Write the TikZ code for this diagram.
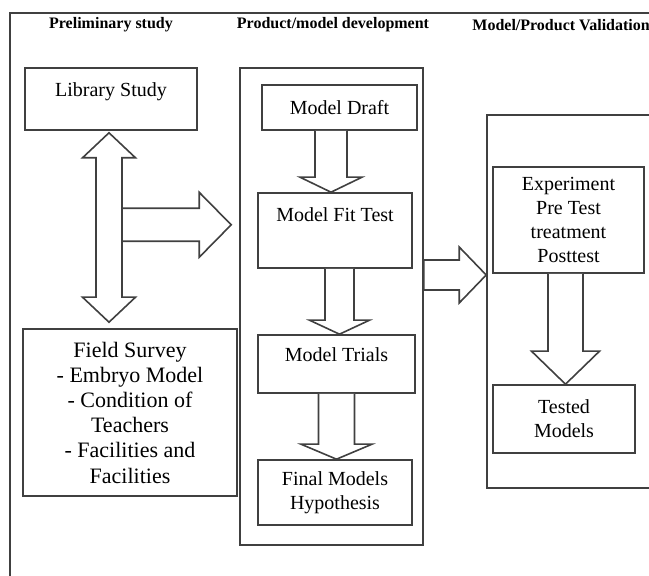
\documentclass[tikz,border=0pt]{standalone}
\usepackage{fontspec}
\setmainfont{Liberation Serif}
\usetikzlibrary{calc}

% hollow block arrows: start, tip, half shaft, half head, head length
\newcommand{\downblk}[5]{%
  \draw[blk] let \p1=(#1), \p2=(#2) in
    (\x1-#3,\y1) -- (\x1-#3,\y2+#5) -- (\x1-#4,\y2+#5) -- (\x2,\y2)
    -- (\x1+#4,\y2+#5) -- (\x1+#3,\y2+#5) -- (\x1+#3,\y1);}
\newcommand{\rightblk}[5]{%
  \draw[blk] let \p1=(#1), \p2=(#2) in
    (\x1,\y1+#3) -- (\x2-#5,\y1+#3) -- (\x2-#5,\y1+#4) -- (\x2,\y2)
    -- (\x2-#5,\y1-#4) -- (\x2-#5,\y1-#3) -- (\x1,\y1-#3) -- cycle;}

\begin{document}
\begin{tikzpicture}[x=0.5pt,y=-0.5pt,
  box/.style={draw=black!75,line width=0.8pt,inner sep=0pt,align=center,
    font=\fontsize{10}{12}\selectfont},
  topbox/.style 2 args={box,text height=#1,text depth=#2},
  blk/.style={draw=black!75,line width=0.8pt,fill=white,line join=miter},
  hdr/.style={inner sep=0pt,font=\fontsize{8}{9}\selectfont\bfseries}]
  \useasboundingbox (0,0) rectangle (649,576);
  \clip (0,0) rectangle (649,576);
  \draw[black!75,line width=1pt] (10,600) -- (10,13) -- (670,13);
  % column titles
  \node[hdr] (h1) at (111,25) {Preliminary study};
  \node[hdr] (h2) at (333,25) {Product/model development};
  \node[hdr,anchor=west] (h3) at (472,25) {Model/Product Validation};
  % preliminary study
  \node[topbox={14.25pt}{16.75pt},minimum width=86pt] (lib) at (111,99) {Library Study};
  \node[box,minimum width=107pt,minimum height=83.5pt,font=\fontsize{11}{12.6}\selectfont]
    (field) at (130,412.5) {Field Survey\\- Embryo Model\\- Condition of\\Teachers\\- Facilities and\\Facilities};
  % development
  \node[box,minimum width=91.5pt,minimum height=238.5pt] (dev) at (331.5,306.5) {};
  \node[box,minimum width=77.5pt,minimum height=22.5pt] (draft) at (339.5,107.5) {Model Draft};
  \node[topbox={14.25pt}{23.25pt},minimum width=77pt] (fit) at (335,230.5) {Model Fit Test};
  \node[topbox={13.25pt}{15.75pt},minimum width=78.5pt] (trials) at (336.5,364) {Model Trials};
  \node[box,minimum width=77pt,minimum height=32.5pt] (final) at (335,492.5) {Final Models\\Hypothesis};
  % validation
  \node[box,minimum width=89pt,minimum height=186.5pt] (val) at (576,301.5) {};
  \node[box,minimum width=75.5pt,minimum height=53pt] (exper) at (568.5,220) {Experiment\\Pre Test\\treatment\\Posttest};
  \node[box,minimum width=71pt,minimum height=34pt] (tested) at (564,419) {Tested\\Models};
  % arrows
  \coordinate (dtop) at ($(lib.south)+(-2,2)$);
  \coordinate (dbot) at ($(dtop |- field.north)+(0,-6)$);
  \draw[blk] let \p1=(dtop), \p2=(dbot) in
    (\x1,\y1) -- (\x1+13.25pt,\y1-12.5pt) -- (\x1+6.5pt,\y1-12.5pt)
    -- (\x1+6.5pt,\y2+12.5pt) -- (\x1+13.25pt,\y2+12.5pt) -- (\x2,\y2)
    -- (\x1-13.25pt,\y2+12.5pt) -- (\x1-6.5pt,\y2+12.5pt)
    -- (\x1-6.5pt,\y1-12.5pt) -- (\x1-13.25pt,\y1-12.5pt) -- cycle;
  \coordinate (split) at ($(dtop)+(13,92)$);
  \rightblk{split}{$(split -| dev.west)+(-8,0)$}{8.25pt}{16.25pt}{16pt}
  \coordinate (a1) at ($(draft.south)+(-8.5,0)$);
  \downblk{a1}{a1 |- fit.north}{8pt}{15.5pt}{7.5pt}
  \coordinate (a2) at ($(fit.south)+(4.5,0)$);
  \downblk{a2}{a2 |- trials.north}{7.25pt}{15pt}{7pt}
  \coordinate (a3) at (trials.south);
  \downblk{a3}{a3 |- final.north}{9pt}{17.75pt}{7.5pt}
  \coordinate (m2) at ($(dev.east)+(0,-31.5)$);
  \rightblk{m2}{m2 -| val.west}{7.5pt}{14pt}{13.5pt}
  \coordinate (a4) at ($(exper.south)+(-3,0)$);
  \downblk{a4}{a4 |- tested.north}{8.75pt}{17pt}{16.5pt}
\end{tikzpicture}
\end{document}
